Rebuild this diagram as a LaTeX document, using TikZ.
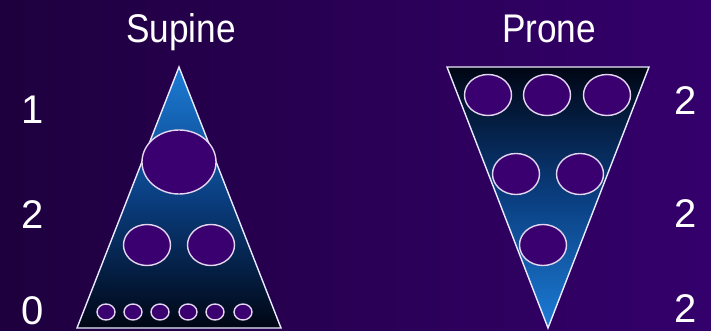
\documentclass[tikz,border=0pt]{standalone}
\usepackage{fontspec}
\setmainfont{Liberation Sans}
\usetikzlibrary{shapes.geometric}
\definecolor{bgL}{RGB}{30,0,62}
\definecolor{bgR}{RGB}{52,0,108}
\definecolor{triblue}{RGB}{28,124,214}
\definecolor{trimid}{RGB}{10,62,128}
\definecolor{tridark}{RGB}{0,6,20}
\definecolor{holefill}{RGB}{58,0,112}
\definecolor{holeline}{RGB}{228,214,240}
\tikzset{
  hole/.style={ellipse, draw=holeline, line width=1.4pt, fill=holefill, inner sep=0pt},
  big/.style={hole, minimum width=74pt, minimum height=64pt},
  mid/.style={hole, minimum width=47pt, minimum height=41pt},
  small/.style={hole, minimum width=18pt, minimum height=16pt},
  lbl/.style={text=white, font=\fontsize{40}{46}\selectfont, inner sep=0pt, anchor=base},
  ttl/.style={lbl, xscale=0.88},
  tri/.style={draw=white!92!blue, line width=1.4pt}
}
\begin{document}
\begin{tikzpicture}[x=1pt,y=-1pt]
\useasboundingbox (0,0) rectangle (711,331);
\shade[left color=bgL, right color=bgR] (0,0) rectangle (711,331);
% supine triangle
\coordinate (sA) at (179,67);
\coordinate (sB) at (77,328);
\coordinate (sC) at (281,328);
\shade[top color=triblue, bottom color=tridark, middle color=trimid] (sA) -- (sB) -- (sC) -- cycle;
\draw[tri] (sA) -- (sB) -- (sC) -- cycle;
% prone triangle
\coordinate (pA) at (447,67);
\coordinate (pB) at (649,67);
\coordinate (pC) at (548,328);
\shade[top color=tridark, bottom color=triblue, middle color=trimid] (pA) -- (pB) -- (pC) -- cycle;
\draw[tri] (pA) -- (pB) -- (pC) -- cycle;
% supine holes
\node[big] (s1) at (179,162) {};
\node[mid] (s2) at (147,245) {};
\node[mid] (s3) at (211,245) {};
\node[small] (s4) at (106,312) {};
\node[small] (s5) at (133,312) {};
\node[small] (s6) at (160,312) {};
\node[small] (s7) at (188,312) {};
\node[small] (s8) at (215,312) {};
\node[small] (s9) at (243,312) {};
% prone holes
\node[mid] (p1) at (488,95) {};
\node[mid] (p2) at (547,95) {};
\node[mid] (p3) at (607,95) {};
\node[mid] (p4) at (516,174) {};
\node[mid] (p5) at (580,174) {};
\node[mid] (p6) at (543,245) {};
% labels
\node[ttl] (tS) at (181,43) {Supine};
\node[ttl] (tP) at (549,43) {Prone};
\node[lbl] (l1) at (33,124) {1};
\node[lbl] (l2) at (33,228) {2};
\node[lbl] (l3) at (33,324) {0};
\node[lbl] (r1) at (686,115) {2};
\node[lbl] (r2) at (686,227) {2};
\node[lbl] (r3) at (686,322) {2};
\end{tikzpicture}
\end{document}
